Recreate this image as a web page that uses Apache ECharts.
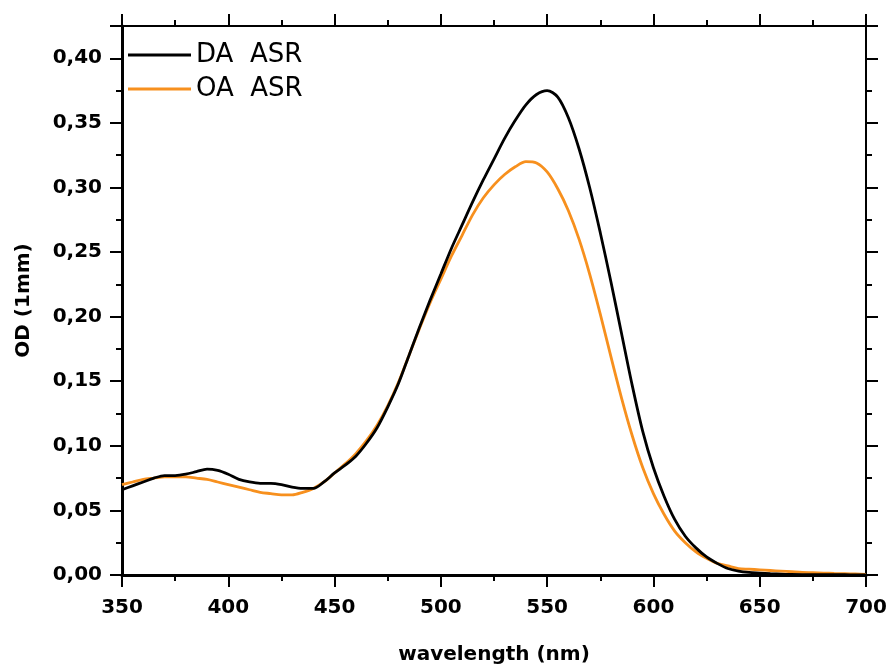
<!DOCTYPE html>
<html>
<head>
<meta charset="utf-8">
<script src="https://cdn.jsdelivr.net/npm/echarts@6/dist/echarts.min.js"></script>
<style>
  html, body { margin: 0; padding: 0; background: #fff; }
  #chart { width: 891px; height: 671px; }
</style>
</head>
<body>
<div id="chart"></div>
<script>
// wavelength grid (nm), 5 nm steps
const wavelength = [
  350, 355, 360, 365, 370, 375, 380, 385, 390, 395,
  400, 405, 410, 415, 420, 425, 430, 435, 440, 445,
  450, 455, 460, 465, 470, 475, 480, 485, 490, 495,
  500, 505, 510, 515, 520, 525, 530, 535, 540, 545,
  550, 555, 560, 565, 570, 575, 580, 585, 590, 595,
  600, 605, 610, 615, 620, 625, 630, 635, 640, 645,
  650, 655, 660, 665, 670, 675, 680, 685, 690, 695, 700
]
const daAsr = [
  0.066, 0.069, 0.072, 0.075, 0.077, 0.077, 0.078, 0.080, 0.082, 0.081,
  0.078, 0.074, 0.072, 0.071, 0.071, 0.070, 0.068, 0.067, 0.067, 0.072,
  0.079, 0.085, 0.092, 0.102, 0.114, 0.130, 0.148, 0.170, 0.192, 0.213,
  0.233, 0.253, 0.271, 0.289, 0.306, 0.322, 0.338, 0.352, 0.364, 0.372,
  0.375, 0.370, 0.354, 0.330, 0.300, 0.265, 0.227, 0.187, 0.147, 0.111,
  0.083, 0.061, 0.043, 0.030, 0.021, 0.014, 0.009, 0.005, 0.003, 0.002,
  0.0015, 0.001, 0.0006, 0.0004, 0.0003, 0.0003, 0.0002, 0.0002, 0.0002, 0.0001, 0.0001
]
const oaAsr = [
  0.070, 0.072, 0.074, 0.075, 0.076, 0.076, 0.076, 0.075, 0.074, 0.072,
  0.070, 0.068, 0.066, 0.064, 0.063, 0.062, 0.062, 0.064, 0.067, 0.072,
  0.079, 0.086, 0.094, 0.104, 0.116, 0.131, 0.149, 0.170, 0.191, 0.211,
  0.229, 0.247, 0.263, 0.279, 0.292, 0.302, 0.310, 0.316, 0.320, 0.319,
  0.312, 0.299, 0.282, 0.260, 0.233, 0.202, 0.169, 0.137, 0.108, 0.083,
  0.063, 0.047, 0.034, 0.025, 0.018, 0.013, 0.009, 0.007, 0.005, 0.0045,
  0.004, 0.0035, 0.003, 0.0025, 0.002, 0.0018, 0.0015, 0.0012, 0.001, 0.0008, 0.0005
]
const seriesNames = ['DA  ASR', 'OA  ASR']
const colors = ['#000000', '#f7901e']

const chart = echarts.init(document.getElementById('chart'))
const font = 'DejaVu Sans, Verdana, sans-serif'
const fmt = (v) => v.toFixed(2).replace('.', ',')
const labelStyle = { fontFamily: font, fontSize: 20, fontWeight: 'bold', color: '#000' }

const frameAxis = (extra) => Object.assign({
  type: 'value',
  axisLine: { show: true, onZero: false, lineStyle: { color: '#000', width: 2 } },
  axisTick: { show: true, inside: false, length: 12, lineStyle: { color: '#000', width: 2 } },
  minorTick: { show: true, splitNumber: 2, length: 6, lineStyle: { color: '#000', width: 2 } },
  splitLine: { show: false },
  minorSplitLine: { show: false },
}, extra)

chart.setOption({
  animation: false,
  backgroundColor: '#fff',
  color: colors,
  grid: { left: 122, right: 25, top: 26, bottom: 96, containLabel: false },
  legend: {
    orient: 'vertical', left: 123, top: 37, itemGap: 8,
    icon: 'rect', itemWidth: 63, itemHeight: 3,
    textStyle: { fontFamily: font, fontSize: 26, color: '#000' },
    data: seriesNames,
  },
  xAxis: [
    frameAxis({
      min: 350, max: 700, interval: 50, position: 'bottom',
      name: 'wavelength (nm)', nameLocation: 'middle', nameGap: 70,
      nameTextStyle: labelStyle,
      axisLine: { show: true, onZero: false, lineStyle: { color: '#000', width: 3 } },
      axisLabel: Object.assign({ margin: 23 }, labelStyle),
    }),
    frameAxis({
      min: 350, max: 700, interval: 50, position: 'top',
      axisLabel: { show: false },
    }),
  ],
  yAxis: [
    frameAxis({
      min: 0, max: 0.425, interval: 0.05, position: 'left',
      name: 'OD (1mm)', nameLocation: 'middle', nameGap: 88, nameRotate: 90,
      nameTextStyle: labelStyle,
      axisLine: { show: true, onZero: false, lineStyle: { color: '#000', width: 3 } },
      axisLabel: Object.assign({ margin: 20, showMaxLabel: false, formatter: fmt }, labelStyle),
    }),
    frameAxis({
      min: 0, max: 0.425, interval: 0.05, position: 'right',
      axisLabel: { show: false },
    }),
  ],
  series: seriesNames.map((name, i) => ({
    name, type: 'line', xAxisIndex: 0, yAxisIndex: 0,
    data: wavelength.map((w, j) => [w, [daAsr, oaAsr][i][j]]),
    smooth: 0.3, symbol: 'none',
    lineStyle: { width: 2.8, color: colors[i] },
    itemStyle: { color: colors[i] },
    z: i === 0 ? 3 : 2,
  })),
})
</script>
</body>
</html>
